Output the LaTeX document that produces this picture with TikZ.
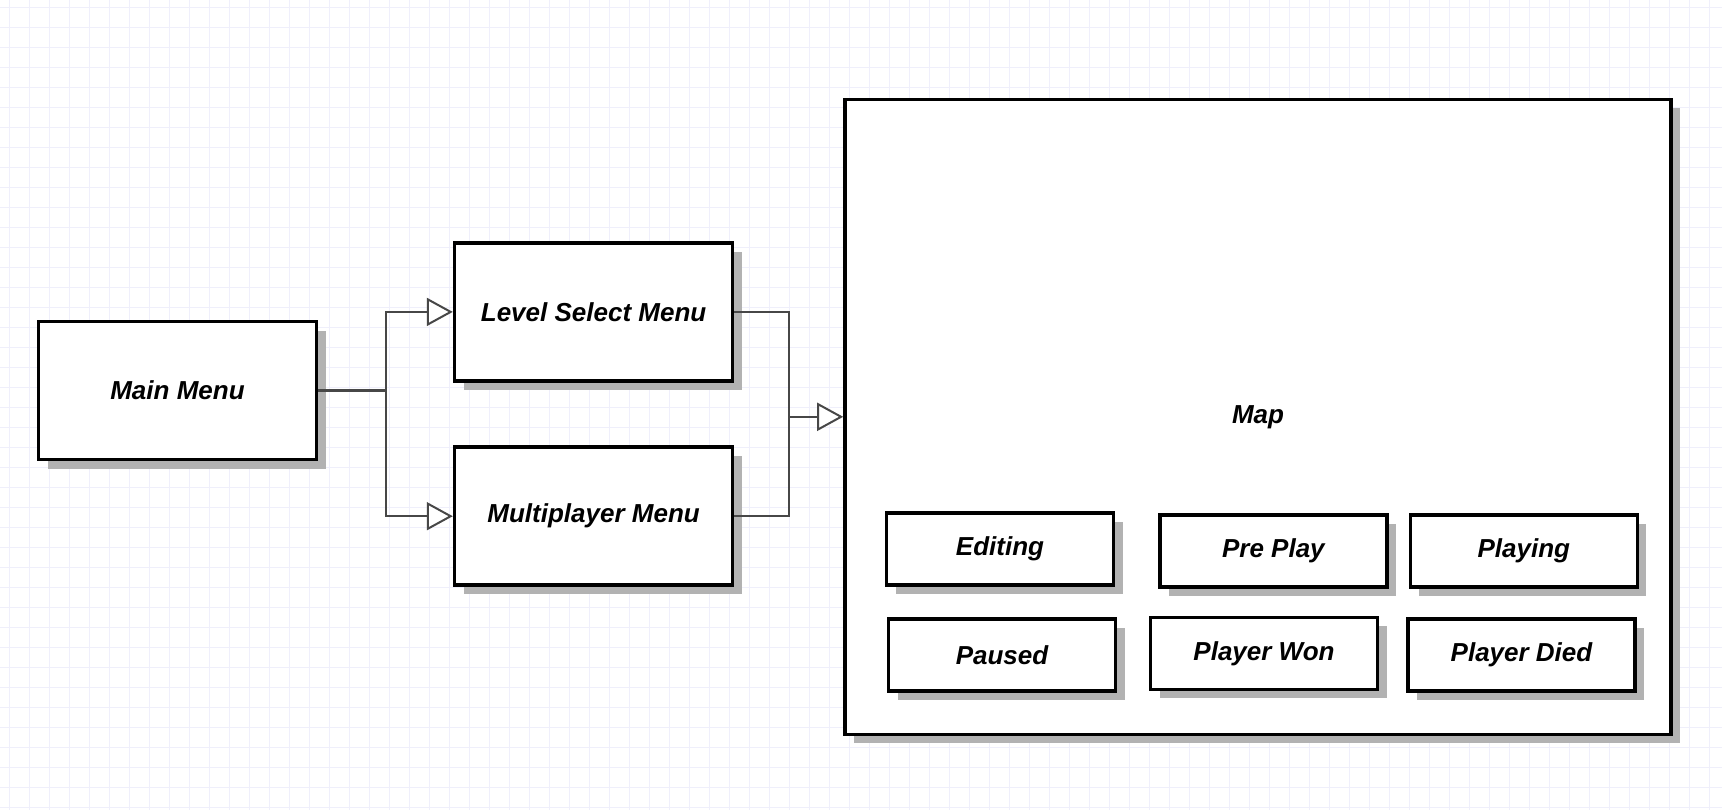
\documentclass[tikz,border=0pt]{standalone}
\usepackage{fontspec}
\setmainfont{Liberation Sans}
\usepackage{xcolor}
\usetikzlibrary{arrows.meta,shadows}
\definecolor{gridblue}{RGB}{239,239,251}
\newcommand\boxfont{\fontsize{13}{15}\selectfont\bfseries\itshape}
\tikzset{
  screen/.style={rectangle, draw=black, fill=white, line width=1.8pt,
    minimum width=139pt, minimum height=69pt, inner sep=0pt, font=\boxfont,
    drop shadow={shadow xshift=4.5pt, shadow yshift=-4.5pt, fill=black!30, opacity=1}},
  state/.style={screen, minimum width=113.5pt, minimum height=36pt},
  gridline/.style={draw=gridblue, line width=0.5pt},
  link/.style={draw=black!72, line width=1pt},
  arr/.style={link, -{Triangle[length=13pt, width=14pt, fill=white]}}
}

\begin{document}
\begin{tikzpicture}[x=0.5pt, y=-0.5pt]
\useasboundingbox (0,0) rectangle (1722,810);
\fill[white] (0,0) rectangle (1722,810);
\foreach \x in {9,29,...,1722} \draw[gridline] (\x,0) -- (\x,810);
\foreach \y in {7,27,...,810} \draw[gridline] (0,\y) -- (1722,\y);

\node[screen] (main) at (177.5,390.5) {Main Menu};
\node[screen] (lsm) at (593.6,311.9) {Level Select Menu};
\node[screen] (mpm) at (593.6,516.2) {Multiplayer Menu};
\node[screen, minimum width=413pt, minimum height=317.5pt] (map) at (1258,416.8) {Map};

\node[state] (edit) at (1000,549) {Editing};
\node[state] (pre) at (1273.4,550.8) {Pre Play};
\node[state] (play) at (1523.8,550.8) {Playing};
\node[state] (pause) at (1002,655) {Paused};
\node[state] (won) at (1264,653.4) {Player Won};
\node[state] (died) at (1521.5,655) {Player Died};

\coordinate (fork) at (385.5,390.5);
\coordinate (join) at (788.5,416.8);

\draw[link, line width=1.3pt] (main.east) -- (fork);
\draw[arr] (fork) |- (lsm.west);
\draw[arr] (fork) |- (mpm.west);
\draw[link] (lsm.east) -| (join);
\draw[link] (mpm.east) -| (join);
\draw[arr] (join) -- (map.west);
\end{tikzpicture}
\end{document}
